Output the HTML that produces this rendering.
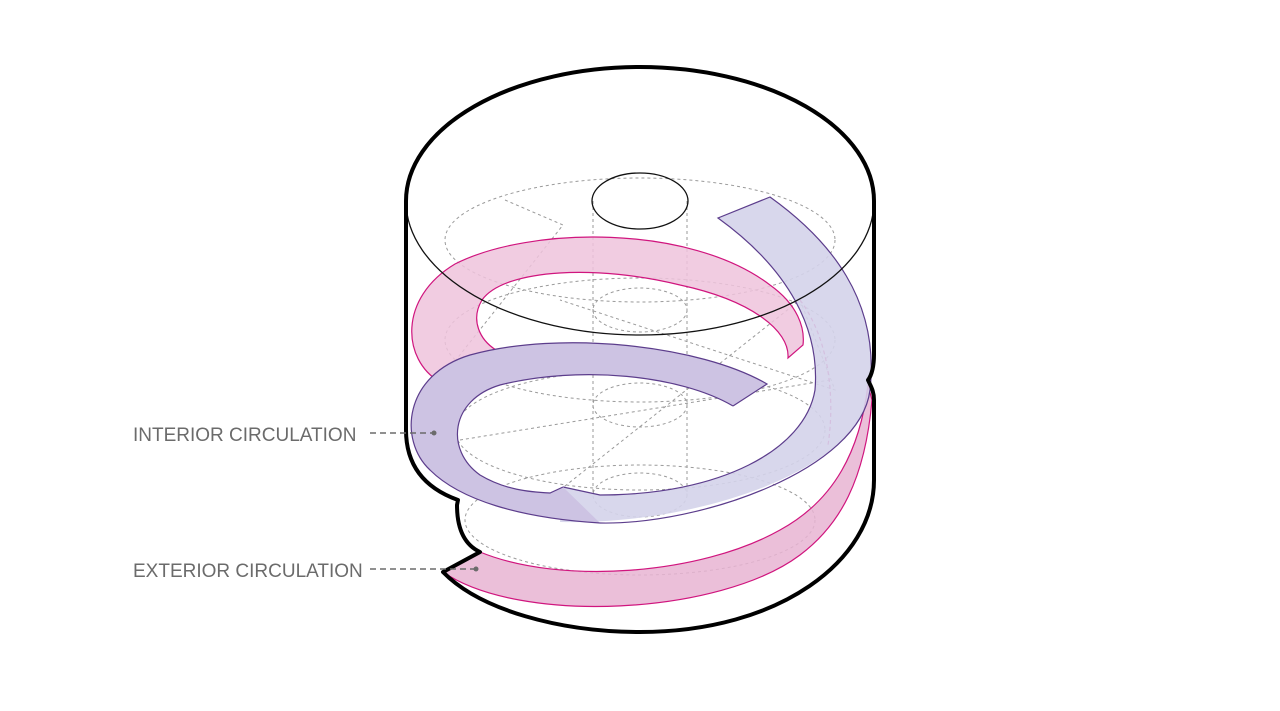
<!DOCTYPE html>
<html><head><meta charset="utf-8"><style>
html,body{margin:0;padding:0;background:#fff;}
svg{display:block}
text{font-family:"Liberation Sans",sans-serif;font-size:19px;fill:#6b6b6b;}
</style></head><body>
<svg width="1280" height="711" viewBox="0 0 1280 711" xmlns="http://www.w3.org/2000/svg">
<rect width="1280" height="711" fill="#fff"/>
<g fill="none" stroke="#9a9a9a" stroke-width="1" stroke-dasharray="3,3">
<ellipse cx="640" cy="310" rx="47" ry="22"/>
<ellipse cx="640" cy="405" rx="47" ry="22"/>
<ellipse cx="640" cy="495" rx="47" ry="22"/>
<line x1="593" y1="201" x2="593" y2="495"/>
<line x1="687" y1="201" x2="687" y2="495"/>
<ellipse cx="640" cy="240" rx="195" ry="62"/>
<ellipse cx="640" cy="340" rx="195" ry="62"/>
<ellipse cx="640" cy="430" rx="185" ry="60"/>
<ellipse cx="640" cy="520" rx="175" ry="55"/>
<path d="M505,200 L563,225 L440,380"/>
<path d="M560,490 L800,300 L835,390 L560,300"/>
<path d="M460,440 L830,380"/>
</g>
<!-- lower pink band -->
<path d="M443,572 C520,625 720,615 800,555 C840,525 865,480 872,400 L868,385 C860,450 835,500 780,530 C700,575 560,585 480,552 Z" fill="#e8b4d2" fill-opacity="0.85" stroke="#d0157e" stroke-width="1.2"/>
<!-- upper pink band -->
<path d="M440,382 C402,360 398,298 455,264 C530,226 690,224 770,285 C798,305 805,328 803,345 L788,358 C790,330 750,300 680,285 C600,265 505,268 482,300 C470,320 480,340 496,350 Z" fill="#efc3dc" fill-opacity="0.85" stroke="#d0157e" stroke-width="1.2"/>
<path d="M800,300 C830,340 835,400 828,445" fill="none" stroke="#d0157e" stroke-width="1.2" stroke-dasharray="4,3"/>
<!-- light purple spiral right -->
<path d="M560,522 C700,525 860,470 870,390 C880,300 830,240 770,197 L718,218 C790,270 820,330 815,390 C805,450 720,495 600,495 L563,487 Z" fill="#d4d3ea" fill-opacity="0.9" stroke="none"/>
<path d="M600,523 C700,525 860,470 870,390 C880,300 830,240 770,197 L718,218 C790,270 820,330 815,390 C805,450 720,495 600,495 L563,487" fill="none" stroke="#5c3d8c" stroke-width="1.2"/>
<!-- dark purple band -->
<path d="M767,384 C700,345 560,330 470,355 C404,375 398,440 430,470 C460,500 520,518 600,523 L563,487 L550,493 C530,492 505,490 480,475 C445,450 450,400 500,385 C580,365 680,375 733,406 Z" fill="#cdc3e3" stroke="none"/>
<path d="M733,406 L767,384 C700,345 560,330 470,355 C404,375 398,440 430,470 C460,500 520,518 600,523 M563,487 L550,493 C530,492 505,490 480,475 C445,450 450,400 500,385 C580,365 680,375 733,406" fill="none" stroke="#5c3d8c" stroke-width="1.2"/>
<ellipse cx="640" cy="201" rx="48" ry="28" fill="none" stroke="#111" stroke-width="1.3"/>
<path d="M406,201 A234,134 0 0,1 874,201" fill="none" stroke="#000" stroke-width="4"/>
<path d="M406,201 A234,134 0 0,0 874,201" fill="none" stroke="#111" stroke-width="1.3"/>
<path d="M406,201 L406,430 C406,470 430,490 458,500 L457,505 C457,530 465,545 480,552 L443,572 C480,610 560,632 640,632 C780,632 874,560 874,480 L874,400 C874,390 870,385 868,380 C872,375 874,365 874,355 L874,201" fill="none" stroke="#000" stroke-width="4" stroke-linejoin="round"/>
<text x="133" y="441">INTERIOR CIRCULATION</text>
<line x1="370" y1="433" x2="432" y2="433" stroke="#6b6b6b" stroke-width="1.5" stroke-dasharray="6,4"/>
<circle cx="434" cy="433" r="2.5" fill="#6b6b6b"/>
<text x="133" y="577">EXTERIOR CIRCULATION</text>
<line x1="370" y1="569" x2="474" y2="569" stroke="#6b6b6b" stroke-width="1.5" stroke-dasharray="6,4"/>
<circle cx="476" cy="569" r="2.5" fill="#6b6b6b"/>
</svg>
</body></html>
